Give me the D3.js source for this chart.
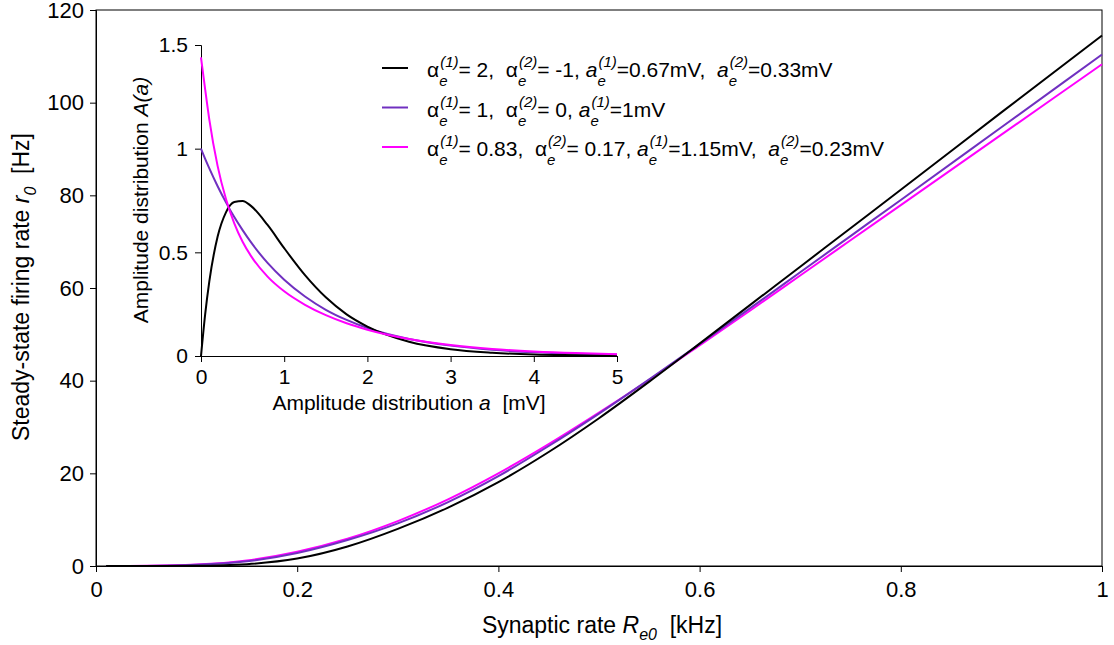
<!DOCTYPE html>
<html lang="en">
<head>
  <meta charset="UTF-8" />
  <title>Steady-state firing rate</title>
  <style>
    body { margin: 0; background: #fff; }
    svg { font-family: Arial, "Liberation Sans", sans-serif; }
    .tick text { fill: #000; }
    .main .tick text { font-size: 22px; }
    .inset .tick text { font-size: 21px; }
    .tick line, .domain { stroke: #000; }
  </style>
</head>
<body>
  <svg id="chart" width="1114" height="645"></svg>

  <script src="https://cdnjs.cloudflare.com/ajax/libs/d3/7.8.4/d3.min.js"></script>
  <script>
    // main plot: synaptic rate (kHz) vs steady-state rate (Hz)
    const rate = [0.01, 0.05, 0.1, 0.15, 0.2, 0.25, 0.3, 0.35, 0.4, 0.45, 0.5, 0.55, 0.6, 0.65, 0.7, 0.75, 0.8, 0.9, 1.0];
    const rBimodal = [0, 0, 0.05, 0.4, 1.6, 4.2, 8.0, 12.6, 18.1, 24.6, 31.9, 39.8, 48.0, 56.3, 64.6, 72.9, 81.2, 97.9, 114.5];
    const rExp     = [0, 0.02, 0.25, 1.0, 2.8, 5.6, 9.2, 13.8, 19.4, 25.9, 32.9, 40.3, 47.9, 55.6, 63.4, 71.2, 79.0, 94.7, 110.4];
    const rTwoExp  = [0, 0.03, 0.3, 1.2, 3.1, 5.9, 9.7, 14.4, 20.0, 26.3, 33.1, 40.2, 47.6, 55.1, 62.7, 70.3, 77.9, 93.1, 108.3];

    // inset: amplitude (mV) vs amplitude distribution
    const amp = [0, 0.05, 0.1, 0.2, 0.3, 0.4, 0.5, 0.6, 0.8, 1, 1.25, 1.5, 1.75, 2, 2.5, 3, 3.5, 4, 4.5, 5];
    const aBimodal = [0, 0.201, 0.360, 0.576, 0.693, 0.743, 0.748, 0.724, 0.632, 0.520, 0.390, 0.283, 0.201, 0.142, 0.069, 0.033, 0.016, 0.007, 0.004, 0.002];
    const aExp     = [1, 0.951, 0.905, 0.819, 0.741, 0.670, 0.607, 0.549, 0.449, 0.368, 0.287, 0.223, 0.174, 0.135, 0.082, 0.050, 0.030, 0.018, 0.011, 0.007];
    const aTwoExp  = [1.44, 1.286, 1.140, 0.916, 0.757, 0.640, 0.551, 0.483, 0.383, 0.312, 0.247, 0.197, 0.158, 0.127, 0.082, 0.053, 0.034, 0.022, 0.014, 0.009];

    const colors = ["#000000", "#7030c0", "#ff00ff"];

    const mainXTicks = [0, 0.2, 0.4, 0.6, 0.8, 1];
    const mainYTicks = [0, 20, 40, 60, 80, 100, 120];
    const insetXTicks = [0, 1, 2, 3, 4, 5];
    const insetYTicks = [0, 0.5, 1, 1.5];

    // legend entries: strings are plain, {i:..} italic, [sup, sub] stacked scripts
    const legendLabels = [
      ["α", ["(1)", "e"], "= 2,  α", ["(2)", "e"], "= -1, ", {i: "a"}, ["(1)", "e"], "=0.67mV,  ", {i: "a"}, ["(2)", "e"], "=0.33mV"],
      ["α", ["(1)", "e"], "= 1,  α", ["(2)", "e"], "= 0, ", {i: "a"}, ["(1)", "e"], "=1mV"],
      ["α", ["(1)", "e"], "= 0.83,  α", ["(2)", "e"], "= 0.17, ", {i: "a"}, ["(1)", "e"], "=1.15mV,  ", {i: "a"}, ["(2)", "e"], "=0.23mV"]
    ];

    const svg = d3.select("#chart");
    const fmt = d3.format("~g");

    // ---------- main plot ----------
    const x = d3.scaleLinear().domain([0, 1]).range([96, 1102]);
    const y = d3.scaleLinear().domain([0, 120]).range([566, 10]);

    svg.append("rect")
      .attr("x", 96).attr("y", 10)
      .attr("width", 1006).attr("height", 556)
      .attr("fill", "none").attr("stroke", "#000");

    svg.append("g").attr("class", "main")
      .attr("transform", "translate(0,566)")
      .call(d3.axisBottom(x).tickValues(mainXTicks).tickFormat(fmt).tickSize(6).tickPadding(9));

    svg.append("g").attr("class", "main")
      .attr("transform", "translate(96,0)")
      .call(d3.axisLeft(y).tickValues(mainYTicks).tickSize(6).tickPadding(6));

    const mainLine = vals => d3.line()
      .x((d, i) => x(rate[i]))
      .y(d => y(d))
      .curve(d3.curveMonotoneX)(vals);

    [rTwoExp, rExp, rBimodal].forEach((vals, k) => {
      svg.append("path")
        .attr("d", mainLine(vals))
        .attr("fill", "none")
        .attr("stroke", colors[2 - k])
        .attr("stroke-width", 2);
    });

    // axis titles
    const xt = svg.append("text")
      .attr("x", 602).attr("y", 633)
      .attr("text-anchor", "middle")
      .attr("font-size", 23)
      .style("white-space", "pre");
    xt.append("tspan").text("Synaptic rate ");
    xt.append("tspan").attr("font-style", "italic").text("R");
    xt.append("tspan").attr("font-style", "italic").attr("font-size", 16).attr("dy", 7).text("e0");
    xt.append("tspan").attr("dy", -7).text("  [kHz]");

    const yt = svg.append("text")
      .attr("transform", "translate(29,287) rotate(-90)")
      .attr("text-anchor", "middle")
      .attr("font-size", 23)
      .style("white-space", "pre");
    yt.append("tspan").text("Steady-state firing rate ");
    yt.append("tspan").attr("font-style", "italic").text("r");
    yt.append("tspan").attr("font-style", "italic").attr("font-size", 16).attr("dy", 7).text("0");
    yt.append("tspan").attr("dy", -7).text("  [Hz]");

    // ---------- inset ----------
    const ix = d3.scaleLinear().domain([0, 5]).range([201, 617]);
    const iy = d3.scaleLinear().domain([0, 1.5]).range([356, 45]);

    svg.append("g").attr("class", "inset")
      .attr("transform", "translate(0,356)")
      .call(d3.axisBottom(ix).tickValues(insetXTicks).tickFormat(fmt).tickSizeOuter(0).tickSize(6).tickPadding(7));

    svg.append("g").attr("class", "inset")
      .attr("transform", "translate(201,0)")
      .call(d3.axisLeft(iy).tickValues(insetYTicks).tickFormat(fmt).tickSizeOuter(0).tickSize(6).tickPadding(7));

    const insetLine = vals => d3.line()
      .x((d, i) => ix(amp[i]))
      .y(d => iy(d))
      .curve(d3.curveMonotoneX)(vals);

    [aExp, aBimodal, aTwoExp].forEach((vals, k) => {
      svg.append("path")
        .attr("d", insetLine(vals))
        .attr("fill", "none")
        .attr("stroke", [colors[1], colors[0], colors[2]][k])
        .attr("stroke-width", 2);
    });

    const ixt = svg.append("text")
      .attr("x", 409).attr("y", 410)
      .attr("text-anchor", "middle")
      .attr("font-size", 21)
      .style("white-space", "pre");
    ixt.append("tspan").text("Amplitude distribution ");
    ixt.append("tspan").attr("font-style", "italic").text("a");
    ixt.append("tspan").text("  [mV]");

    const iyt = svg.append("text")
      .attr("transform", "translate(148,200) rotate(-90)")
      .attr("text-anchor", "middle")
      .attr("font-size", 21);
    iyt.append("tspan").text("Amplitude distribution ");
    iyt.append("tspan").attr("font-style", "italic").text("A(a)");

    // ---------- legend ----------
    const legendY = [68, 107.5, 147];
    legendLabels.forEach((tokens, row) => {
      const ly = legendY[row];
      svg.append("line")
        .attr("x1", 382).attr("x2", 408)
        .attr("y1", ly).attr("y2", ly)
        .attr("stroke", colors[row]).attr("stroke-width", 2);

      let cx = 427;
      const put = (str, opts) => {
        const t = svg.append("text")
          .attr("x", opts.x).attr("y", opts.y)
          .attr("font-size", opts.size)
          .attr("font-style", opts.italic ? "italic" : null)
          .style("white-space", "pre")
          .text(str);
        return t.node().getComputedTextLength();
      };
      tokens.forEach(tok => {
        if (typeof tok === "string") {
          cx += put(tok, {x: cx, y: ly + 9, size: 21});
        } else if (Array.isArray(tok)) {
          const w1 = put(tok[0], {x: cx + 1, y: ly - 1, size: 15, italic: true});
          const w2 = put(tok[1], {x: cx, y: ly + 18, size: 15, italic: true});
          cx += Math.max(w1 + 1, w2);
        } else {
          cx += put(tok.i, {x: cx, y: ly + 9, size: 21, italic: true});
        }
      });
    });
  </script>
</body>
</html>
